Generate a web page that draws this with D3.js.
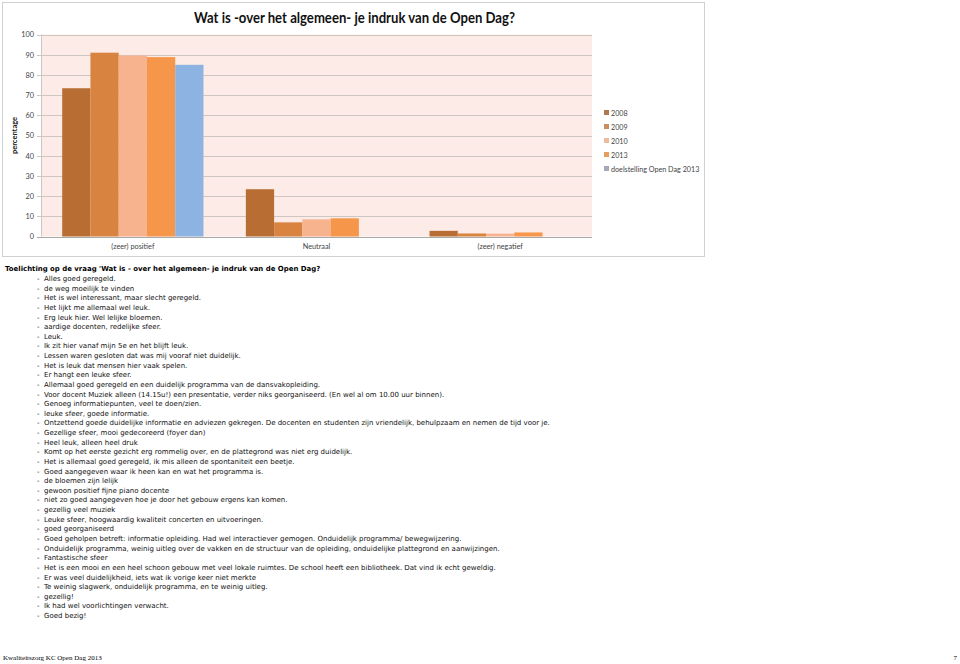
<!DOCTYPE html>
<html><head><meta charset="utf-8">
<script src="https://cdn.jsdelivr.net/npm/d3@7"></script>
<style>body{margin:0;background:#fff;}svg{display:block;}</style>
</head><body>
<svg id="c" width="960" height="664"></svg>
<script>
const categories = ["(zeer) positief", "Neutraal", "(zeer) negatief"];
const seriesNames = ["2008", "2009", "2010", "2013", "doelstelling Open Dag 2013"];
const s2008 = [73.4, 23.4, 2.8];
const s2009 = [91.0, 7.0, 1.5];
const s2010 = [89.6, 8.5, 1.4];
const s2013 = [88.8, 9.0, 2.0];
const sDoel = [85.0, 0, 0];
const yTicks = [0, 10, 20, 30, 40, 50, 60, 70, 80, 90, 100];
const seriesColors = ["#b86e33", "#d98340", "#f7b38e", "#f5964a", "#8db3e2"];
const legendColors = ["#b07850", "#c98f5f", "#eebba0", "#e69d62", "#a4a9bb"];
const title = "Wat is -over het algemeen- je indruk van de Open Dag?";
const commentHeading = "Toelichting op de vraag 'Wat is - over het algemeen- je indruk van de Open Dag?";
const comments = [
"Alles goed geregeld.",
"de weg moeilijk te vinden",
"Het is wel interessant, maar slecht geregeld.",
"Het lijkt me allemaal wel leuk.",
"Erg leuk hier. Wel lelijke bloemen.",
"aardige docenten, redelijke sfeer.",
"Leuk.",
"Ik zit hier vanaf mijn 5e en het blijft leuk.",
"Lessen waren gesloten dat was mij vooraf niet duidelijk.",
"Het is leuk dat mensen hier vaak spelen.",
"Er hangt een leuke sfeer.",
"Allemaal goed geregeld en een duidelijk programma van de dansvakopleiding.",
"Voor docent Muziek alleen (14.15u!) een presentatie, verder niks georganiseerd. (En wel al om 10.00 uur binnen).",
"Genoeg informatiepunten, veel te doen/zien.",
"leuke sfeer, goede informatie.",
"Ontzettend goede duidelijke informatie en adviezen gekregen. De docenten en studenten zijn vriendelijk, behulpzaam en nemen de tijd voor je.",
"Gezellige sfeer, mooi gedecoreerd (foyer dan)",
"Heel leuk, alleen heel druk",
"Komt op het eerste gezicht erg rommelig over, en de plattegrond was niet erg duidelijk.",
"Het is allemaal goed geregeld, ik mis alleen de spontaniteit een beetje.",
"Goed aangegeven waar ik heen kan en wat het programma is.",
"de bloemen zijn lelijk",
"gewoon positief fijne piano docente",
"niet zo goed aangegeven hoe je door het gebouw ergens kan komen.",
"gezellig veel muziek",
"Leuke sfeer, hoogwaardig kwaliteit concerten en uitvoeringen.",
"goed georganiseerd",
"Goed geholpen betreft: informatie opleiding. Had wel interactiever gemogen. Onduidelijk programma/ bewegwijzering.",
"Onduidelijk programma, weinig uitleg over de vakken en de structuur van de opleiding, onduidelijke plattegrond en aanwijzingen.",
"Fantastische sfeer",
"Het is een mooi en een heel schoon gebouw met veel lokale ruimtes. De school heeft een bibliotheek. Dat vind ik echt geweldig.",
"Er was veel duidelijkheid, iets wat ik vorige keer niet merkte",
"Te weinig slagwerk, onduidelijk programma, en te weinig uitleg.",
"gezellig!",
"Ik had wel voorlichtingen verwacht.",
"Goed bezig!"
];
const footerLeft = "Kwaliteitszorg KC Open Dag 2013";
const footerRight = "7";

const seriesValues = [s2008, s2009, s2010, s2013, sDoel];
const svg = d3.select("#c");
const chartFont = "Lato, 'Open Sans', sans-serif";

// chart frame
svg.append("rect").attr("x", 2.5).attr("y", 2.5).attr("width", 702).attr("height", 254)
  .attr("fill", "#fff").attr("stroke", "#d0d0d0").attr("stroke-width", 1);

const plot = {left: 41, right: 592, top: 34.5, bottom: 236.5};
const y = d3.scaleLinear().domain([0, 100]).range([plot.bottom, plot.top]);
const x0 = d3.scaleBand().domain(categories).range([plot.left, plot.right]).padding(0);
const x1 = d3.scaleBand().domain(seriesNames).range([0, x0.bandwidth()]).paddingInner(0).paddingOuter(0.75);

svg.append("rect").attr("x", plot.left).attr("y", plot.top)
  .attr("width", plot.right - plot.left).attr("height", plot.bottom - plot.top).attr("fill", "#fcebe6");

// gridlines
svg.append("g").selectAll("line").data(yTicks).join("line")
  .attr("x1", plot.left - 4).attr("x2", plot.right)
  .attr("y1", d => Math.round(y(d)) + 0.5).attr("y2", d => Math.round(y(d)) + 0.5)
  .attr("stroke", d => d === 0 ? "#a8a8a8" : "#cfc6c3").attr("stroke-width", 1);
svg.append("line").attr("x1", plot.left + 0.5).attr("x2", plot.left + 0.5)
  .attr("y1", plot.top).attr("y2", plot.bottom).attr("stroke", "#c8c8c8");

// y axis labels
const yAxis = d3.axisLeft(y).tickValues(yTicks).tickSize(0).tickPadding(7);
const ya = svg.append("g").attr("transform", `translate(${plot.left},0)`).call(yAxis);
ya.select(".domain").remove();
ya.selectAll("text").attr("font-family", chartFont).attr("font-size", 7.3).attr("fill", "#444");

svg.append("text").attr("transform", `translate(17,${(plot.top + plot.bottom) / 2}) rotate(-90)`)
  .attr("text-anchor", "middle").attr("font-family", chartFont).attr("font-weight", "bold")
  .attr("font-size", 7.5).attr("fill", "#222").text("percentage");

// bars
const groups = svg.append("g").selectAll("g").data(categories).join("g")
  .attr("transform", d => `translate(${x0(d)},0)`);
groups.selectAll("rect").data((c, ci) => seriesNames.map((s, si) => ({s, si, v: seriesValues[si][ci]})))
  .join("rect")
  .attr("x", d => x1(d.s)).attr("width", x1.bandwidth())
  .attr("y", d => y(d.v)).attr("height", d => y(0) - y(d.v))
  .attr("fill", d => seriesColors[d.si]);

// x axis labels
const xAxis = d3.axisBottom(x0).tickSize(0).tickPadding(7);
const xa = svg.append("g").attr("transform", `translate(0,${plot.bottom})`).call(xAxis);
xa.select(".domain").remove();
xa.selectAll("text").attr("font-family", chartFont).attr("font-size", 7.3).attr("fill", "#444");

// title
svg.append("text").attr("x", 354.5).attr("y", 22.5).attr("text-anchor", "middle")
  .attr("font-family", chartFont).attr("font-weight", "bold").attr("font-size", 15.5).attr("fill", "#111")
  .attr("textLength", 321).attr("lengthAdjust", "spacingAndGlyphs")
  .text(title);

// legend
const lg = svg.append("g").selectAll("g").data(seriesNames).join("g")
  .attr("transform", (d, i) => `translate(604,${113 + i * 14})`);
lg.append("rect").attr("x", 0).attr("y", -3).attr("width", 5).attr("height", 5)
  .attr("fill", (d, i) => legendColors[i]);
lg.append("text").attr("x", 7).attr("y", 2.5).attr("font-family", chartFont).attr("font-size", 7.2)
  .attr("fill", "#444").text(d => d);

// comments
const textFont = "'DejaVu Sans', Verdana, sans-serif";
svg.append("text").attr("x", 5).attr("y", 271).attr("font-family", textFont).attr("font-weight", "bold")
  .attr("font-size", 6.95).attr("fill", "#000").text(commentHeading);
const cm = svg.append("g").selectAll("g").data(comments).join("g")
  .attr("transform", (d, i) => `translate(0,${281 + i * 9.63})`);
cm.append("text").attr("x", 37).attr("font-family", textFont).attr("font-size", 7).attr("fill", "#111").text("-");
cm.append("text").attr("x", 44).attr("font-family", textFont).attr("font-size", 7).attr("fill", "#111").text(d => d);

// footer
svg.append("text").attr("x", 3).attr("y", 660).attr("font-family", "'Liberation Serif', serif")
  .attr("font-size", 7).attr("fill", "#000").text(footerLeft);
svg.append("text").attr("x", 957).attr("y", 660).attr("text-anchor", "end").attr("font-family", "'Liberation Serif', serif")
  .attr("font-size", 7).attr("fill", "#000").text(footerRight);
</script>
</body></html>
